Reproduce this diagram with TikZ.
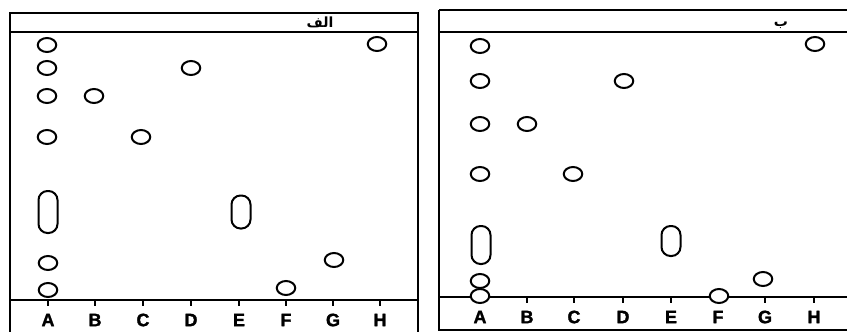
\documentclass[tikz,border=0pt]{standalone}
\usepackage{fontspec}
\setmainfont{Liberation Sans}
\newfontfamily\lanefont[BoldFeatures={FakeBold=1.5}]{Liberation Sans}
\newfontfamily\arabicfont[Script=Arabic]{DejaVu Sans}
\TeXXeTstate=1
\usetikzlibrary{shapes.geometric}
\begin{document}
\begin{tikzpicture}[x=1pt,y=-1pt,
  frame/.style={line width=1.8pt},
  spot/.style={draw, fill=white, ellipse, line width=2pt, minimum width=18.5pt, minimum height=14pt, inner sep=0pt},
  band/.style={draw, fill=white, rectangle, rounded corners=9pt, line width=2pt, minimum width=19pt, inner sep=0pt},
  lane/.style={font=\lanefont\bfseries\fontsize{18}{18}\selectfont, inner sep=0pt},
  tickmark/.style={line width=1.8pt},
  heading/.style={font=\arabicfont\bfseries\fontsize{14}{14}\selectfont, inner sep=0pt}]
\useasboundingbox (0,0) rectangle (847,332);
% ---------- left panel ----------
\draw[frame] (10,334) -- (10,13) -- (418,13) -- (418,334);
\draw[frame] (10,32) -- (418,32);
\draw[frame] (10,300) -- (418,300);
\node[heading] (titleL) at (320,22) {\beginR الف\endR};
\foreach \x/\n in {48/A,95/B,143/C,191/D,239/E,286/F,333/G,380/H}{
  \draw[tickmark] (\x,300) -- (\x,306);
  \node[lane] (L\n) at (\x,320) {\n};
}
\node[spot] (la1) at (47,45) {};
\node[spot] (la2) at (47,68) {};
\node[spot] (la3) at (47,96) {};
\node[spot] (la4) at (47,137) {};
\node[band, minimum height=42pt] (la5) at (48,212) {};
\node[spot] (la6) at (48,263) {};
\node[spot] (la7) at (48,290) {};
\node[spot] (lb) at (94,96) {};
\node[spot] (lc) at (141,137) {};
\node[spot] (ld) at (191,68) {};
\node[band, minimum height=33pt] (le) at (241,212) {};
\node[spot] (lf) at (286,288) {};
\node[spot] (lg) at (334,260) {};
\node[spot] (lh) at (377,44) {};
% ---------- right panel ----------
\draw[frame] (439,10) -- (848,10);
\draw[frame] (439,10) -- (439,330) -- (848,330);
\draw[frame] (439,32) -- (848,32);
\draw[frame] (439,297) -- (848,297);
\node[heading] (titleR) at (781,25) {\beginR ب\endR};
\foreach \x/\n in {480/A,527/B,574/C,623/D,671/E,718/F,765/G,814/H}{
  \draw[tickmark] (\x,297) -- (\x,303);
  \node[lane] (R\n) at (\x,317) {\n};
}
\node[spot] (ra1) at (480,46) {};
\node[spot] (ra2) at (480,81) {};
\node[spot] (ra3) at (480,124) {};
\node[spot] (ra4) at (480,174) {};
\node[band, minimum height=38pt] (ra5) at (481,245) {};
\node[spot] (ra6) at (480,281) {};
\node[spot] (ra7) at (480,296) {};
\node[spot] (rb) at (527,124) {};
\node[spot] (rc) at (573,174) {};
\node[spot] (rd) at (624,81) {};
\node[band, minimum height=30pt] (re) at (671,241) {};
\node[spot] (rf) at (719,296) {};
\node[spot] (rg) at (763,279) {};
\node[spot] (rh) at (815,44) {};
\end{tikzpicture}
\end{document}
